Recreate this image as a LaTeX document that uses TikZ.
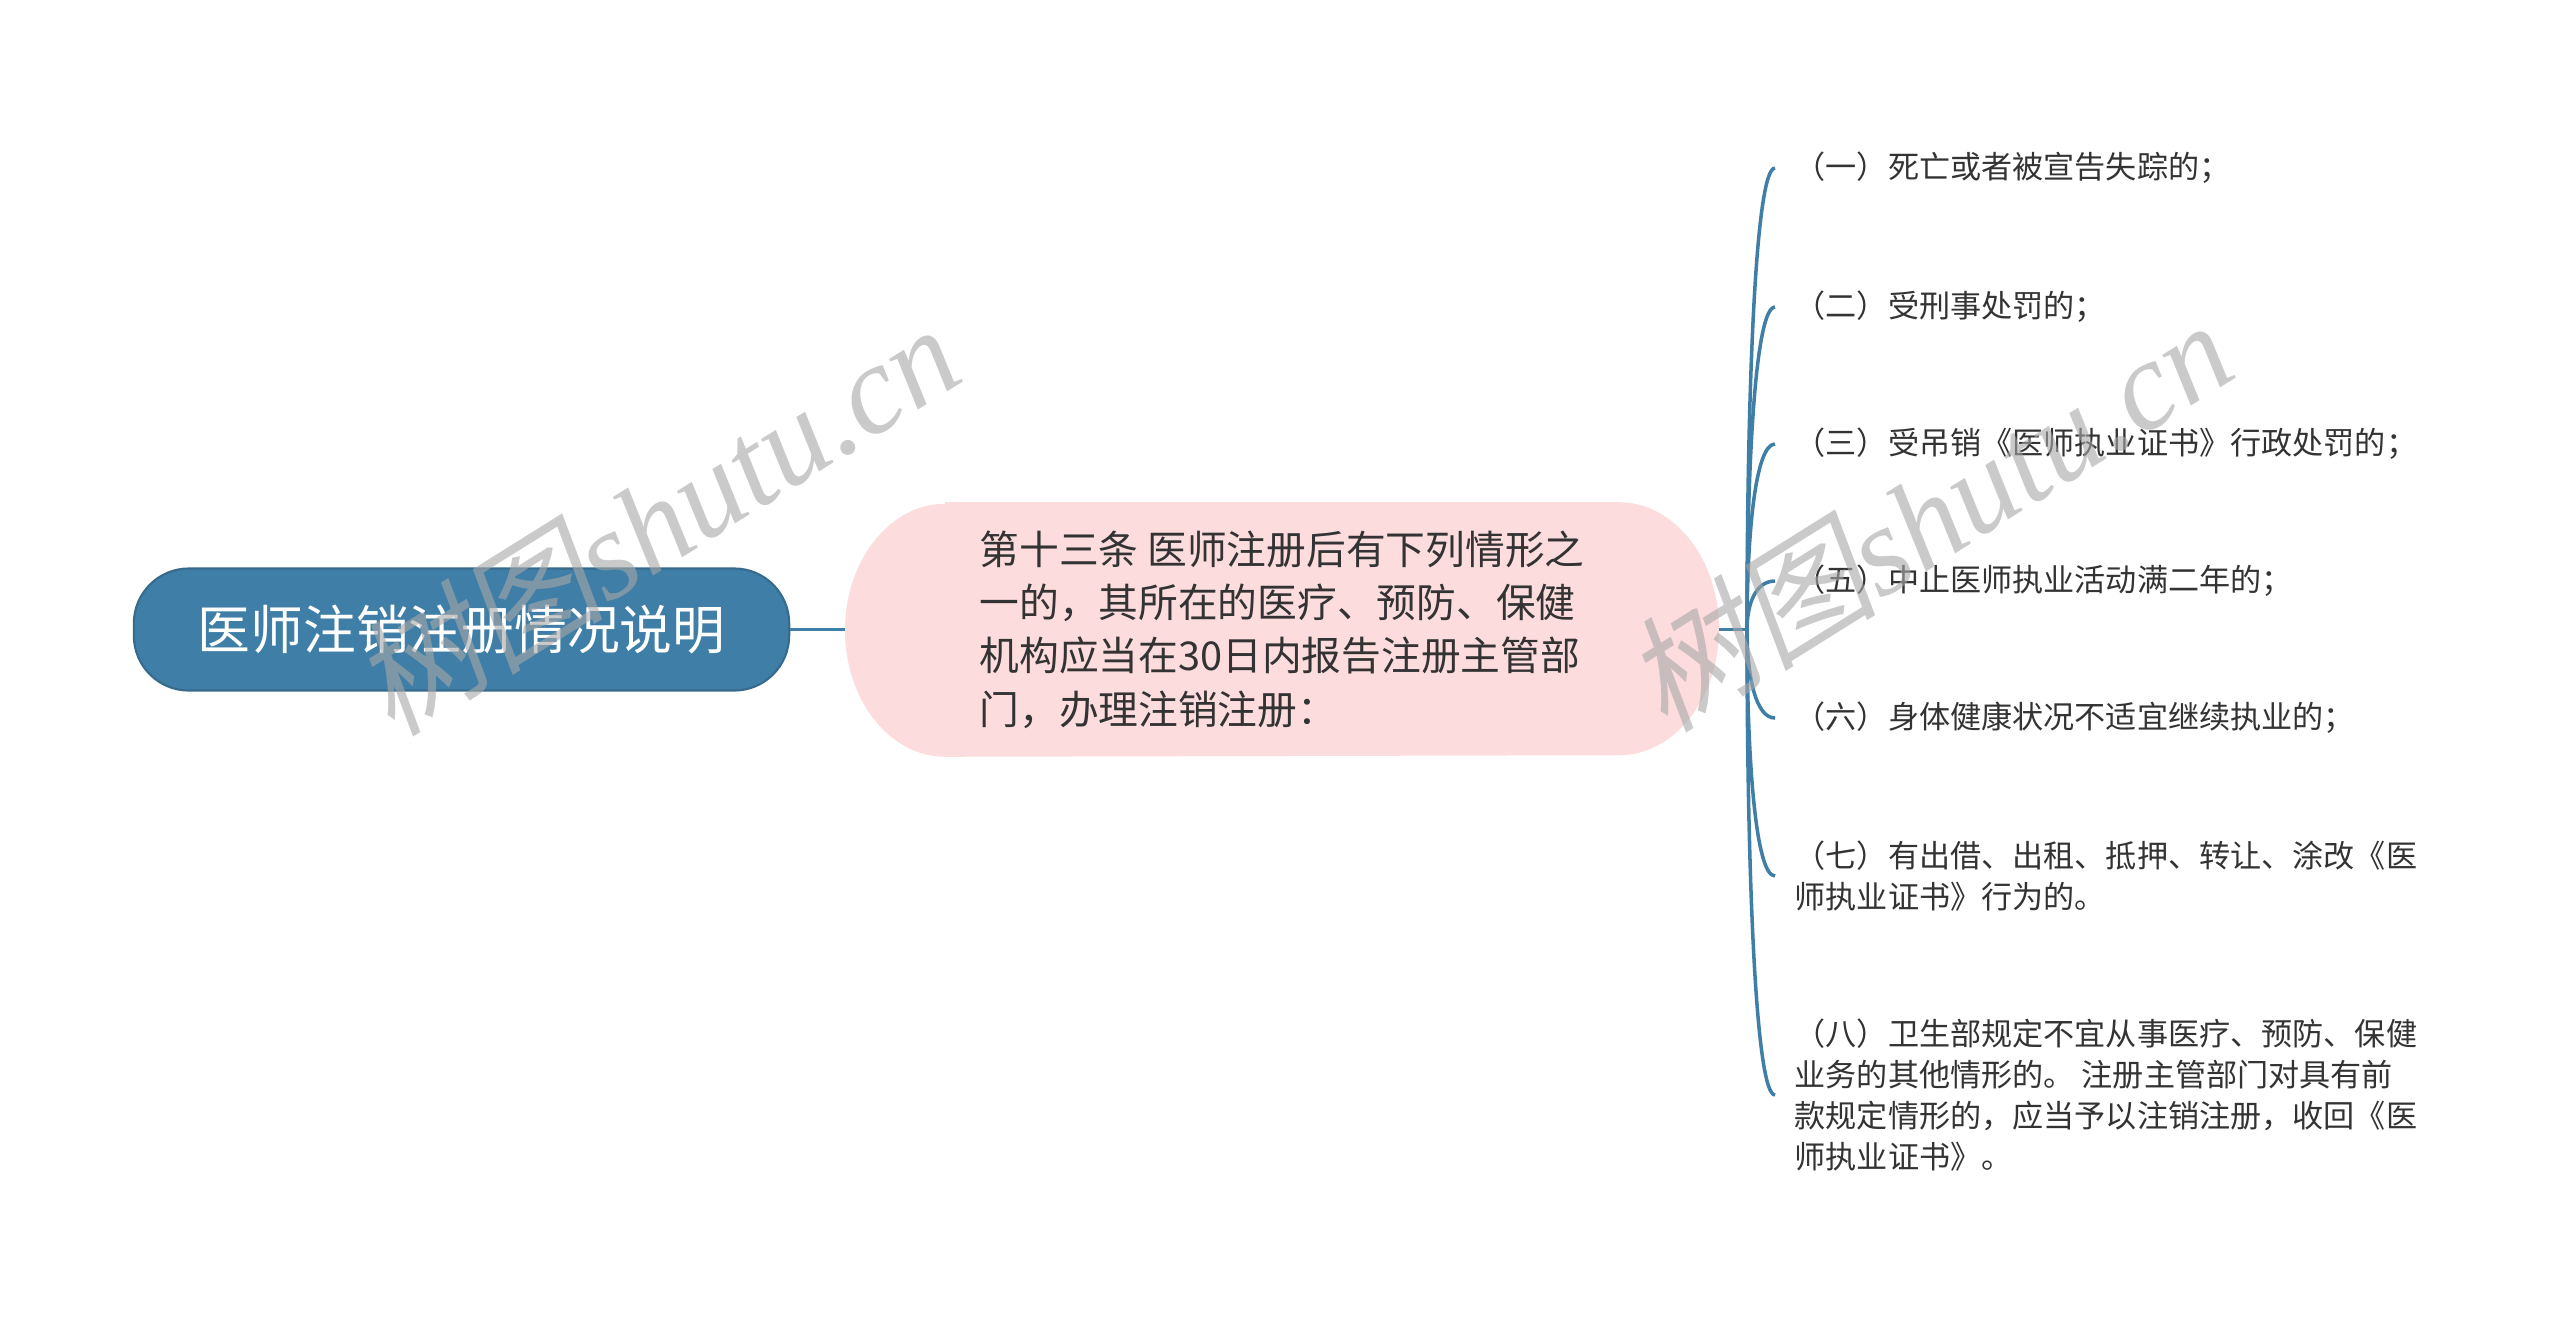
\documentclass[tikz,border=0pt]{standalone}
\usepackage{fontspec}
\newfontfamily\cjk{Noto Sans CJK SC}
\newfontfamily\cjkslant[FakeSlant=0.2]{Noto Sans CJK SC}
\newfontfamily\wmserif{Liberation Serif}
\usetikzlibrary{calc,backgrounds}
\definecolor{mainblue}{HTML}{3F7EA6}
\definecolor{pinkbg}{HTML}{FCDCDC}
\definecolor{txt}{HTML}{333333}
\definecolor{wmgray}{HTML}{A8A8A8}
\tikzset{
  rootbox/.style={fill=mainblue, draw=mainblue!85!black, line width=0.6pt,
    rounded corners=0.55cm, minimum width=6.55cm, minimum height=1.22cm,
    inner sep=0pt, text=white, font=\cjk\fontsize{15}{18}\selectfont},
  centerbox/.style={minimum width=8.72cm, minimum height=2.53cm, inner sep=0pt,
    align=left, text=txt, font=\cjk\fontsize{11.3}{15.2}\selectfont},
  leaf/.style={anchor=west, inner sep=0pt, align=left, text=txt,
    font=\cjk\fontsize{8.85}{11.6}\selectfont},
  link/.style={draw=mainblue, line width=1.1pt},
  branch/.style={draw=mainblue, line width=1pt},
  wm/.style={text=wmgray, opacity=0.6, inner sep=0pt, rotate=32,
    font=\cjkslant\fontsize{36}{40}\selectfont}
}
\begin{document}
\begin{tikzpicture}[x=0.01cm,y=-0.01cm]
\useasboundingbox (0,0) rectangle (2560,1320);

\node[rootbox] (root) at (461.5,629.5) {医师注销注册情况说明};

\node[centerbox] (center) at (1282,629.5) {第十三条 医师注册后有下列情形之\\一的，其所在的医疗、预防、保健\\机构应当在30日内报告注册主管部\\门，办理注销注册：};

\draw[link] (root.east) -- (center.west);
\coordinate (J) at (1747,629.5);
\draw[link] (center.east) -- (J);

\node[leaf] (l1) at (1794,168) {（一）死亡或者被宣告失踪的；};
\node[leaf] (l2) at (1794,307) {（二）受刑事处罚的；};
\node[leaf] (l3) at (1794,444) {（三）受吊销《医师执业证书》行政处罚的；};
\node[leaf] (l4) at (1794,581) {（五）中止医师执业活动满二年的；};
\node[leaf] (l5) at (1794,718) {（六）身体健康状况不适宜继续执业的；};
\node[leaf] (l6) at (1794,876) {（七）有出借、出租、抵押、转让、涂改《医\\师执业证书》行为的。};
\node[leaf] (l7) at (1794,1095) {（八）卫生部规定不宜从事医疗、预防、保健\\业务的其他情形的。 注册主管部门对具有前\\款规定情形的，应当予以注销注册，收回《医\\师执业证书》。};

\foreach \n in {l1,l2,l3,l4,l5,l6,l7}{
  \draw[branch] (J) .. controls ($(J)!0.5!(J|-\n.west)$) and ($(J|-\n.west)+(8,0)$) .. ($(\n.west)+(-19,0)$);
}

\node[wm] (wm1) at (655,518) {树图{\wmserif\itshape shutu.cn}};
\node[wm] (wm2) at (1928,514) {树图{\wmserif\itshape shutu.cn}};

\begin{scope}[on background layer]
\fill[white] (0,0) rectangle (2560,1320);
\fill[pinkbg] ($(center.north west)+(100,0)$) -- ($(center.north east)+(-100,0)$)
  arc[start angle=270, end angle=450, x radius=100, y radius=126.5]
  -- ($(center.south west)+(100,0)$)
  arc[start angle=90, end angle=270, x radius=100, y radius=126.5] -- cycle;
\end{scope}
\end{tikzpicture}
\end{document}
